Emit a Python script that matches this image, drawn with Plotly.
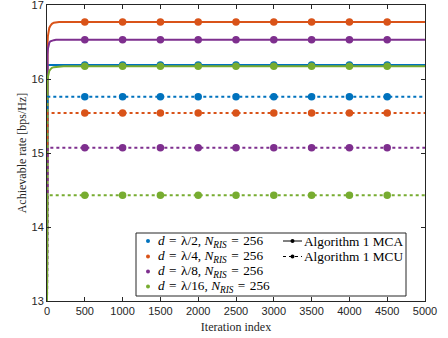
import plotly.graph_objects as go

# ---------------- data ----------------
iters = [0, 1, 2, 4, 7, 12, 20, 30, 45, 65, 90, 120, 160, 220, 300,
         500, 1000, 1500, 2000, 2500, 3000, 3500, 4000, 4500, 5000]

mca_l2 = [13.0, 16.19, 16.19, 16.19, 16.19, 16.19, 16.19, 16.19, 16.19, 16.19, 16.19, 16.19, 16.19, 16.19, 16.19,
          16.19, 16.19, 16.19, 16.19, 16.19, 16.19, 16.19, 16.19, 16.19, 16.19]
mca_l4 = [13.0, 15.6, 16.1, 16.35, 16.48, 16.58, 16.65, 16.69, 16.72, 16.745, 16.76, 16.765, 16.77, 16.77, 16.77,
          16.77, 16.77, 16.77, 16.77, 16.77, 16.77, 16.77, 16.77, 16.77, 16.77]
mca_l8 = [13.0, 15.4, 15.9, 16.2, 16.33, 16.41, 16.46, 16.49, 16.51, 16.52, 16.525, 16.53, 16.53, 16.53, 16.53,
          16.53, 16.53, 16.53, 16.53, 16.53, 16.53, 16.53, 16.53, 16.53, 16.53]
mca_l16 = [13.0, 14.8, 15.4, 15.8, 15.95, 16.03, 16.08, 16.11, 16.13, 16.15, 16.16, 16.165, 16.17, 16.172, 16.172,
           16.172, 16.172, 16.172, 16.172, 16.172, 16.172, 16.172, 16.172, 16.172, 16.172]

mcu_l2 = [13.0] + [15.76] * 24
mcu_l4 = [13.0] + [15.54] * 24
mcu_l8 = [13.0] + [15.07] * 24
mcu_l16 = [13.0] + [14.43] * 24

marker_iters = [500, 1000, 1500, 2000, 2500, 3000, 3500, 4000, 4500]

S = "\u2004"
series_labels = [f"<i>d</i>{S}={S}λ/2, <i>N</i><sub><i>RIS</i></sub>{S}={S}256",
                 f"<i>d</i>{S}={S}λ/4, <i>N</i><sub><i>RIS</i></sub>{S}={S}256",
                 f"<i>d</i>{S}={S}λ/8, <i>N</i><sub><i>RIS</i></sub>{S}={S}256",
                 f"<i>d</i>{S}={S}λ/16, <i>N</i><sub><i>RIS</i></sub>{S}={S}256"]
algo_labels = ["Algorithm 1 MCA", "Algorithm 1 MCU"]

x_ticks = [0, 500, 1000, 1500, 2000, 2500, 3000, 3500, 4000, 4500, 5000]
y_ticks = [13, 14, 15, 16, 17]

colors = ["#0072BD", "#D95319", "#7E2F8E", "#77AC30"]

# ---------------- figure ----------------
fig = go.Figure()

def add_series(vals, color, dash):
    fig.add_trace(go.Scatter(x=iters, y=vals, mode="lines",
                             line=dict(color=color, width=2, dash=dash),
                             showlegend=False, hoverinfo="skip"))
    mx = [it for it in iters if it in marker_iters]
    my = [v for it, v in zip(iters, vals) if it in marker_iters]
    fig.add_trace(go.Scatter(x=mx, y=my, mode="markers",
                             marker=dict(color=color, size=7.5, symbol="circle"),
                             showlegend=False, hoverinfo="skip"))

for vals, c in zip([mca_l2, mca_l4, mca_l8, mca_l16], colors):
    add_series(vals, c, "solid")
for vals, c in zip([mcu_l2, mcu_l4, mcu_l8, mcu_l16], colors):
    add_series(vals, c, "dot")

axis_color = "#262626"
tick_font = dict(family="Liberation Sans, Arial, sans-serif", size=11, color=axis_color)
title_font = dict(family="Liberation Serif, Times New Roman, serif", size=12, color=axis_color)

fig.update_xaxes(range=[0, 5000], tickvals=x_ticks, ticks="inside", ticklen=4,
                 tickcolor=axis_color, showline=True, linecolor=axis_color, linewidth=1,
                 mirror="allticks", showgrid=False, zeroline=False, tickfont=tick_font,
                 ticklabeloverflow="allow", automargin=False,
                 title=dict(text="Iteration index", font=title_font, standoff=6))
fig.update_yaxes(range=[13, 17], tickvals=y_ticks, ticks="inside", ticklen=4,
                 tickcolor=axis_color, showline=True, linecolor=axis_color, linewidth=1,
                 mirror="allticks", showgrid=False, zeroline=False, tickfont=tick_font,
                 ticklabeloverflow="allow", automargin=False,
                 title=dict(text="Achievable rate [bps/Hz]", font=title_font, standoff=2))

L, R, T, B = 47, 23, 5, 37
W, H = 448, 338
pw, ph = W - L - R, H - T - B

def px(x):
    return (x - L) / pw

def py(y):
    return (H - B - y) / ph

shapes = []
annotations = []
# legend box
shapes.append(dict(type="rect", xref="paper", yref="paper",
                   x0=px(136), x1=px(406), y0=py(296), y1=py(233),
                   line=dict(color=axis_color, width=1), fillcolor="white", layer="above"))
leg_font = dict(family="Liberation Serif, Times New Roman, serif", size=13.3, color="black")
rows = [241, 256.5, 271.5, 286.5]
for c, lab, ry in zip(colors, series_labels, rows):
    shapes.append(dict(type="circle", xref="paper", yref="paper",
                       x0=px(146), x1=px(150), y0=py(ry + 2), y1=py(ry - 2),
                       fillcolor=c, line=dict(width=0), layer="above"))
    annotations.append(dict(x=px(156), y=py(ry), xref="paper", yref="paper", text=lab,
                            showarrow=False, xanchor="left", yanchor="middle", font=leg_font))
for k, (lab, ry) in enumerate(zip(algo_labels, rows[:2])):
    shapes.append(dict(type="line", xref="paper", yref="paper",
                       x0=px(283), x1=px(302), y0=py(ry), y1=py(ry),
                       line=dict(color="black", width=1, dash="solid" if k == 0 else "dot"),
                       layer="above"))
    shapes.append(dict(type="circle", xref="paper", yref="paper",
                       x0=px(290.5), x1=px(294.5), y0=py(ry + 2), y1=py(ry - 2),
                       fillcolor="black", line=dict(width=0), layer="above"))
    annotations.append(dict(x=px(302), y=py(ry), xref="paper", yref="paper", text=lab,
                            showarrow=False, xanchor="left", yanchor="middle", font=leg_font))

fig.update_layout(width=W, height=H, margin=dict(l=L, r=R, t=T, b=B),
                  paper_bgcolor="white", plot_bgcolor="white",
                  shapes=shapes, annotations=annotations, showlegend=False)

fig.write_html("out.html", config={"displayModeBar": False},
               post_script="document.body.style.margin='0';")
